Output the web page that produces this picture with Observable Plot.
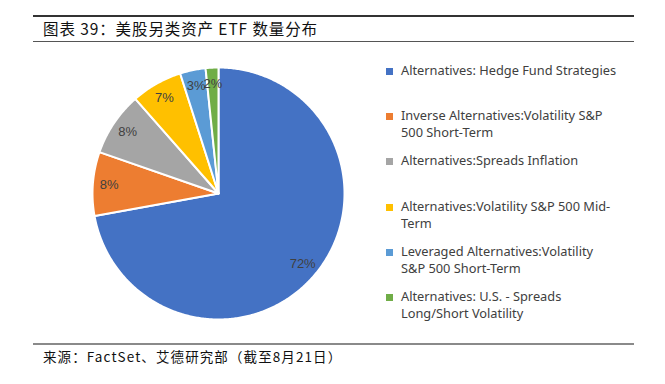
<!DOCTYPE html>
<html>
<head>
<meta charset="utf-8">
<script src="https://cdn.jsdelivr.net/npm/d3@7"></script>
<script src="https://cdn.jsdelivr.net/npm/@observablehq/plot@0.6"></script>
<style>
  html, body { margin: 0; padding: 0; background: #fff; }
  #wrap { position: relative; width: 665px; height: 384px; overflow: hidden; }
  #chart { position: absolute; left: 0; top: 0; }
  .rule { position: absolute; left: 33px; width: 601px; }
  #title { position: absolute; left: 43px; top: 18px; font-family: "Noto Sans CJK SC", sans-serif; font-size: 15.5px; color: #111; letter-spacing: 0.9px; white-space: nowrap; line-height: 20px; }
  #caption { position: absolute; left: 43px; top: 347px; font-family: "Noto Sans CJK SC", sans-serif; font-size: 13.5px; color: #111; letter-spacing: 1.1px; white-space: nowrap; line-height: 18px; }
  #legend { position: absolute; left: 386px; top: 62px; font-family: "Noto Sans", "Liberation Sans", sans-serif; font-size: 12.8px; color: #404040; }
  .item { position: absolute; left: 0; width: 270px; line-height: 17px; }
  .sw { position: absolute; left: 0; top: 6px; width: 7px; height: 7px; }
  .lab { position: absolute; left: 15px; top: 0; white-space: nowrap; }
</style>
</head>
<body>
<div id="wrap">
  <div class="rule" style="top:15px;height:1.5px;background:#333;"></div>
  <div id="title">图表 39：美股另类资产 ETF 数量分布</div>
  <div class="rule" style="top:40.5px;height:1.5px;background:#555;"></div>
  <div id="chart"></div>
  <div id="legend"></div>
  <div class="rule" style="top:343px;height:2px;background:#8a8a8a;"></div>
  <div id="caption">来源：FactSet、艾德研究部（截至8月21日）</div>
</div>
<script>
// ---- data ----
const categories = [
  "Alternatives: Hedge Fund Strategies",
  "Inverse Alternatives:Volatility S&P 500 Short-Term",
  "Alternatives:Spreads Inflation",
  "Alternatives:Volatility S&P 500 Mid-Term",
  "Leveraged Alternatives:Volatility S&P 500 Short-Term",
  "Alternatives: U.S. - Spreads Long/Short Volatility"
];
const legendLines = [
  ["Alternatives: Hedge Fund Strategies"],
  ["Inverse Alternatives:Volatility S&P", "500 Short-Term"],
  ["Alternatives:Spreads Inflation"],
  ["Alternatives:Volatility S&P 500 Mid-", "Term"],
  ["Leveraged Alternatives:Volatility", "S&P 500 Short-Term"],
  ["Alternatives: U.S. - Spreads", "Long/Short Volatility"]
];
const counts = [44, 5, 5, 4, 2, 1];
const colors = ["#4472C4", "#ED7D31", "#A5A5A5", "#FFC000", "#5B9BD5", "#70AD47"];

// ---- derived geometry (unit circle) ----
const total = d3.sum(counts);
const arcs = d3.pie().sort(null).value(d => d)(counts);
const slicePts = [];
arcs.forEach((a, i) => {
  slicePts.push({name: categories[i], x: 0, y: 0});
  const n = Math.max(4, Math.ceil((a.endAngle - a.startAngle) / 0.01));
  for (let k = 0; k <= n; k++) {
    const t = a.startAngle + (a.endAngle - a.startAngle) * k / n;
    slicePts.push({name: categories[i], x: Math.sin(t), y: Math.cos(t)});
  }
});
const labelR = 0.87;
const labels = arcs.map((a, i) => {
  const m = (a.startAngle + a.endAngle) / 2;
  return {x: labelR * Math.sin(m), y: labelR * Math.cos(m), text: Math.round(counts[i] / total * 100) + "%"};
});

const chart = Plot.plot({
  width: 665,
  height: 384,
  marginLeft: 92,
  marginRight: 321,
  marginTop: 67,
  marginBottom: 65,
  x: {domain: [-1, 1], axis: null},
  y: {domain: [-1, 1], axis: null},
  color: {domain: categories, range: colors},
  style: {background: "transparent"},
  marks: [
    Plot.line(slicePts, {x: "x", y: "y", z: "name", fill: "name", stroke: "white", strokeWidth: 2, curve: "linear-closed"}),
    Plot.text(labels, {x: "x", y: "y", text: "text", fill: "#404040", fontSize: 13, fontFamily: "Liberation Sans, Arial, sans-serif"})
  ]
});
document.getElementById("chart").appendChild(chart);

// legend
const leg = document.getElementById("legend");
legendLines.forEach((lines, i) => {
  const item = document.createElement("div");
  item.className = "item";
  item.style.top = (i * 45.2) + "px";
  const sw = document.createElement("div");
  sw.className = "sw";
  sw.style.background = colors[i];
  item.appendChild(sw);
  lines.forEach((ln, j) => {
    const s = document.createElement("div");
    s.className = "lab";
    s.style.top = (j * 17.3) + "px";
    s.textContent = ln;
    item.appendChild(s);
  });
  leg.appendChild(item);
});
</script>
</body>
</html>
